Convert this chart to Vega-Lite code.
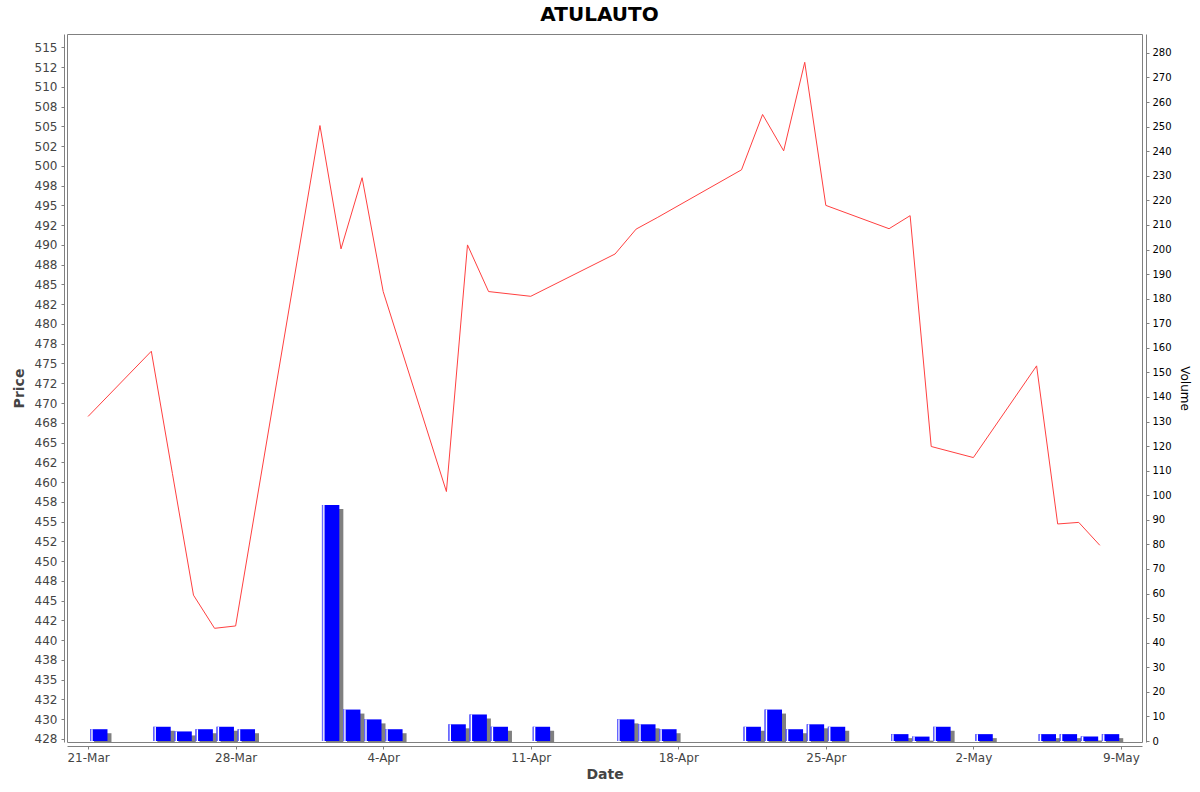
{
  "$schema": "https://vega.github.io/schema/vega-lite/v6.json",
  "autosize": {"type": "none"},
  "padding": {"left": 67, "top": 34, "right": 58, "bottom": 50},
  "width": 1075,
  "height": 708,
  "background": "white",
  "title": {
    "text": "ATULAUTO",
    "font": "DejaVu Sans",
    "fontSize": 20,
    "fontWeight": "bold",
    "color": "#000000",
    "anchor": "middle",
    "baseline": "alphabetic",
    "offset": -7,
    "dx": -5
  },
  "data": {
    "values": [
      {"Date": "2025-03-21T00:00:00", "Price": 468.3, "Volume": 4.8},
      {"Date": "2025-03-24T00:00:00", "Price": 476.55, "Volume": 5.8},
      {"Date": "2025-03-25T00:00:00", "Price": 461.1, "Volume": 3.9},
      {"Date": "2025-03-26T00:00:00", "Price": 445.7, "Volume": 4.8},
      {"Date": "2025-03-27T00:00:00", "Price": 441.5, "Volume": 5.8},
      {"Date": "2025-03-28T00:00:00", "Price": 441.8, "Volume": 4.8},
      {"Date": "2025-04-01T00:00:00", "Price": 505.1, "Volume": 96},
      {"Date": "2025-04-02T00:00:00", "Price": 489.5, "Volume": 12.8},
      {"Date": "2025-04-03T00:00:00", "Price": 498.5, "Volume": 8.8},
      {"Date": "2025-04-04T00:00:00", "Price": 484.1, "Volume": 4.8},
      {"Date": "2025-04-07T00:00:00", "Price": 458.8, "Volume": 6.8},
      {"Date": "2025-04-08T00:00:00", "Price": 490.0, "Volume": 10.8},
      {"Date": "2025-04-09T00:00:00", "Price": 484.1, "Volume": 5.8},
      {"Date": "2025-04-11T00:00:00", "Price": 483.5, "Volume": 5.8},
      {"Date": "2025-04-15T00:00:00", "Price": 488.85, "Volume": 8.8},
      {"Date": "2025-04-16T00:00:00", "Price": 492.0, "Volume": 6.8},
      {"Date": "2025-04-17T00:00:00", "Price": 493.45, "Volume": 4.8},
      {"Date": "2025-04-21T00:00:00", "Price": 499.5, "Volume": 5.8},
      {"Date": "2025-04-22T00:00:00", "Price": 506.5, "Volume": 12.8},
      {"Date": "2025-04-23T00:00:00", "Price": 501.9, "Volume": 4.8},
      {"Date": "2025-04-24T00:00:00", "Price": 513.1, "Volume": 6.8},
      {"Date": "2025-04-25T00:00:00", "Price": 495.0, "Volume": 5.8},
      {"Date": "2025-04-28T00:00:00", "Price": 492.05, "Volume": 2.8},
      {"Date": "2025-04-29T00:00:00", "Price": 493.7, "Volume": 1.8},
      {"Date": "2025-04-30T00:00:00", "Price": 464.5, "Volume": 5.8},
      {"Date": "2025-05-02T00:00:00", "Price": 463.1, "Volume": 2.8},
      {"Date": "2025-05-05T00:00:00", "Price": 474.7, "Volume": 2.8},
      {"Date": "2025-05-06T00:00:00", "Price": 454.7, "Volume": 2.8},
      {"Date": "2025-05-07T00:00:00", "Price": 454.9, "Volume": 1.8},
      {"Date": "2025-05-08T00:00:00", "Price": 452.0, "Volume": 2.8}
    ]
  },
  "encoding": {
    "x": {
      "field": "Date",
      "type": "temporal",
      "scale": {
        "domain": [
          {"year": 2025, "month": 3, "date": 20},
          {"year": 2025, "month": 5, "date": 10}
        ],
        "padding": 0
      },
      "axis": {
        "title": "Date",
        "format": "%-d-%b",
        "values": [
          {"year": 2025, "month": 3, "date": 21},
          {"year": 2025, "month": 3, "date": 28},
          {"year": 2025, "month": 4, "date": 4},
          {"year": 2025, "month": 4, "date": 11},
          {"year": 2025, "month": 4, "date": 18},
          {"year": 2025, "month": 4, "date": 25},
          {"year": 2025, "month": 5, "date": 2},
          {"year": 2025, "month": 5, "date": 9}
        ],
        "offset": 4,
        "tickSize": 3,
        "labelPadding": 3,
        "labelFlush": false,
        "titlePadding": 4
      }
    }
  },
  "layer": [
    {
      "mark": {"type": "line", "color": "#ff4040", "strokeWidth": 1},
      "encoding": {
        "y": {
          "field": "Price",
          "type": "quantitative",
          "scale": {"domain": [427.12, 516.68], "zero": false, "nice": false},
          "axis": {
            "title": "Price",
            "orient": "left",
            "offset": 3,
            "tickSize": 3,
            "labelPadding": 4,
            "titlePadding": 8,
            "values": [427.5, 430, 432.5, 435, 437.5, 440, 442.5, 445, 447.5, 450, 452.5, 455, 457.5, 460, 462.5, 465, 467.5, 470, 472.5, 475, 477.5, 480, 482.5, 485, 487.5, 490, 492.5, 495, 497.5, 500, 502.5, 505, 507.5, 510, 512.5, 515],
            "labelExpr": "floor(datum.value) % 2 == 0 ? floor(datum.value) : ceil(datum.value)"
          }
        }
      }
    },
    {
      "encoding": {
        "y": {
          "field": "Volume",
          "type": "quantitative",
          "scale": {"domain": [-0.4, 287.7], "zero": false, "nice": false},
          "axis": {
            "title": "Volume",
            "orient": "right",
            "offset": 4,
            "tickSize": 3,
            "labelPadding": 3,
            "labelFontSize": 10,
            "labelColor": "#000000",
            "titleFontSize": 12,
            "titleFontWeight": "normal",
            "titleColor": "#000000",
            "titlePadding": 6,
            "values": [0, 10, 20, 30, 40, 50, 60, 70, 80, 90, 100, 110, 120, 130, 140, 150, 160, 170, 180, 190, 200, 210, 220, 230, 240, 250, 260, 270, 280]
          }
        }
      },
      "layer": [
        {
          "mark": {"type": "bar", "color": "#808080", "width": 17.4, "xOffset": 14.7, "yOffset": 4, "clip": true}
        },
        {
          "mark": {"type": "bar", "color": "#0000ff", "width": 17.4, "xOffset": 10.7}
        },
        {
          "mark": {"type": "bar", "color": "#6a6aff", "width": 1.2, "xOffset": 2.6}
        },
        {
          "mark": {"type": "bar", "color": "#ffffff", "width": 1.4, "xOffset": 3.9}
        }
      ]
    }
  ],
  "resolve": {"scale": {"y": "independent"}},
  "config": {
    "font": "DejaVu Sans",
    "view": {"stroke": "#808080", "strokeWidth": 1},
    "axis": {
      "grid": false,
      "domainColor": "#808080",
      "tickColor": "#808080",
      "labelColor": "#444444",
      "labelFont": "DejaVu Sans",
      "labelFontSize": 12,
      "titleFont": "DejaVu Sans",
      "titleFontSize": 14,
      "titleFontWeight": "bold",
      "titleColor": "#444444"
    }
  }
}
